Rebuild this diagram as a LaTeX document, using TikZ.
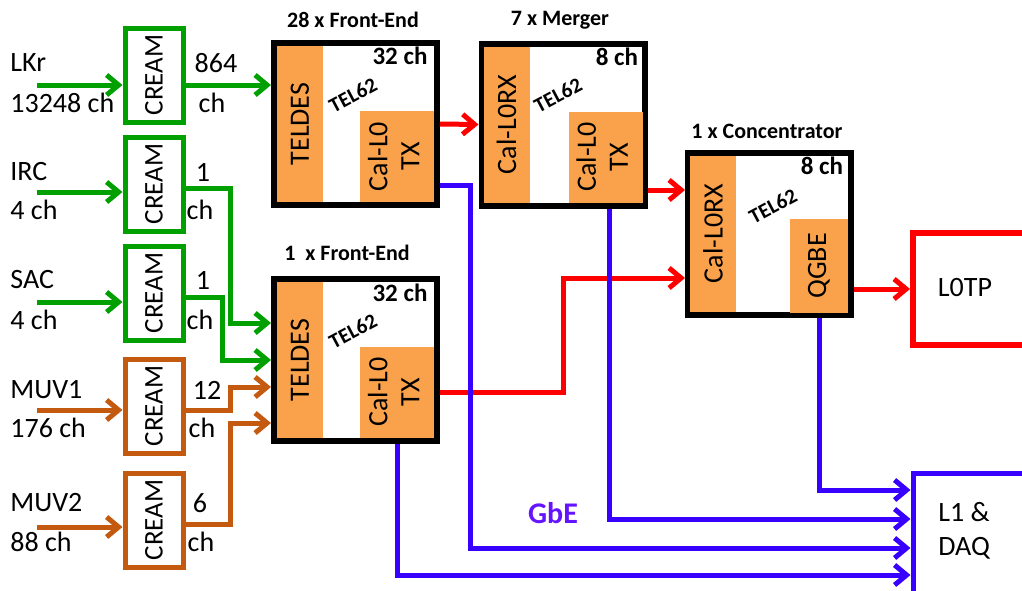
\documentclass[tikz,border=0pt]{standalone}
\usepackage{fontspec}
\setmainfont{Carlito}
\usepackage{xcolor}
\usetikzlibrary{arrows.meta, positioning, calc}

\definecolor{creamgreen}{RGB}{0,160,0}
\definecolor{creambrown}{RGB}{195,90,15}
\definecolor{boardorange}{RGB}{250,162,75}
\definecolor{gbeblue}{RGB}{55,0,255}
\definecolor{gbetext}{RGB}{100,20,255}

\tikzset{
  cream/.style={draw, line width=2.5pt, minimum width=29pt, minimum height=47pt,
    inner sep=0pt, font=\fontsize{13.5}{15}\selectfont},
  board/.style={draw=black, line width=3pt, fill=white, minimum width=81.5pt,
    minimum height=81pt, inner sep=0pt},
  strip/.style={fill=boardorange, minimum width=23pt, minimum height=78pt,
    inner sep=0pt, font=\fontsize{14}{16}\selectfont},
  txbox/.style={fill=boardorange, minimum width=37pt, minimum height=45.5pt,
    inner sep=0pt, font=\fontsize{14}{16}\selectfont},
  lbl/.style={anchor=west, inner sep=0pt, font=\fontsize{14}{16}\selectfont},
  outlbl/.style={inner sep=0pt, font=\fontsize{14}{16}\selectfont},
  head/.style={inner sep=0pt, font=\fontsize{11}{13}\selectfont\bfseries},
  chlbl/.style={inner sep=0pt, font=\fontsize{12.5}{14}\selectfont\bfseries},
  tel/.style={inner sep=0pt, rotate=28, font=\fontsize{10.5}{12}\selectfont\bfseries},
  garrow/.style={creamgreen, line width=2.5pt, -{Straight Barb[length=6pt,width=10pt]}},
  barrow/.style={creambrown, line width=2.5pt, -{Straight Barb[length=6pt,width=10pt]}},
  rarrow/.style={red, line width=2.5pt, -{Straight Barb[length=6pt,width=10pt]}},
  gbe/.style={gbeblue, line width=2.5pt, -{Straight Barb[length=6pt,width=10pt]}},
}

\begin{document}
\begin{tikzpicture}[x=0.5pt, y=-0.5pt]
  \useasboundingbox (0,0) rectangle (1022,590);

  % CREAM boxes and their inputs
  \node[cream, draw=creamgreen] (lkrcream) at (154,75) {\rotatebox{90}{CREAM}};
  \node[cream, draw=creamgreen] (irccream) at (154,184) {\rotatebox{90}{CREAM}};
  \node[cream, draw=creamgreen] (saccream) at (154,293) {\rotatebox{90}{CREAM}};
  \node[cream, draw=creambrown] (muv1cream) at (154,406) {\rotatebox{90}{CREAM}};
  \node[cream, draw=creambrown] (muv2cream) at (154,520) {\rotatebox{90}{CREAM}};

  \node[lbl] (lkr) at (10,63) {LKr};   \node[lbl] (lkrch) at (10,103) {13248 ch};
  \node[lbl] (irc) at (10,172) {IRC};  \node[lbl] (ircch) at (10,210) {4 ch};
  \node[lbl] (sac) at (10,280) {SAC};  \node[lbl] (sacch) at (10,320) {4 ch};
  \node[lbl] (muv1) at (10,390) {MUV1}; \node[lbl] (muv1ch) at (10,428) {176 ch};
  \node[lbl] (muv2) at (10,503) {MUV2}; \node[lbl] (muv2ch) at (10,542) {88 ch};

  \coordinate (lkrsrc) at (37,85);
  \coordinate (ircsrc) at (37,192);
  \coordinate (sacsrc) at (37,302);
  \coordinate (muv1src) at (37,410);
  \coordinate (muv2src) at (37,527);
  \draw[garrow] (lkrsrc) -- (lkrsrc -| lkrcream.west);
  \draw[garrow] (ircsrc) -- (ircsrc -| irccream.west);
  \draw[garrow] (sacsrc) -- (sacsrc -| saccream.west);
  \draw[barrow] (muv1src) -- (muv1src -| muv1cream.west);
  \draw[barrow] (muv2src) -- (muv2src -| muv2cream.west);

  \node[outlbl] (lkrout) at (216,63) {864}; \node[outlbl] (lkroutch) at (212,103) {ch};
  \node[outlbl] (ircout) at (203,172) {1};  \node[outlbl] (ircoutch) at (200,210) {ch};
  \node[outlbl] (sacout) at (203,280) {1};  \node[outlbl] (sacoutch) at (200,320) {ch};
  \node[outlbl] (muv1out) at (207,390) {12}; \node[outlbl] (muv1outch) at (202,428) {ch};
  \node[outlbl] (muv2out) at (200,503) {6};  \node[outlbl] (muv2outch) at (201,542) {ch};

  % TEL62 boards
  \node[board] (fe1) at (355.5,124) {};
  \node[strip] (fe1rx) at (300,124) {\rotatebox{90}{TELDES}};
  \node[txbox] (fe1tx) at (397,156.5) {\rotatebox{90}{\begin{tabular}{@{}c@{}}Cal-L0\\TX\end{tabular}}};
  \node[chlbl] (fe1ch) at (400,56) {32 ch};
  \node[tel] (fe1tel) at (353,95) {TEL62};
  \node[head] (fe1head) at (353,20) {28 x Front-End};

  \node[board] (fe2) at (355.5,360) {};
  \node[strip] (fe2rx) at (300,360) {\rotatebox{90}{TELDES}};
  \node[txbox] (fe2tx) at (397,392) {\rotatebox{90}{\begin{tabular}{@{}c@{}}Cal-L0\\TX\end{tabular}}};
  \node[chlbl] (fe2ch) at (400,293) {32 ch};
  \node[tel] (fe2tel) at (353,331) {TEL62};
  \node[head] (fe2head) at (347,253) {1\ \ x Front-End};

  \node[board] (mrg) at (563,124.5) {};
  \node[strip] (mrgrx) at (506.5,124.5) {\rotatebox{90}{Cal-L0RX}};
  \node[txbox] (mrgtx) at (605.5,157) {\rotatebox{90}{\begin{tabular}{@{}c@{}}Cal-L0\\TX\end{tabular}}};
  \node[chlbl] (mrgch) at (617,57) {8 ch};
  \node[tel] (mrgtel) at (558,95) {TEL62};
  \node[head] (mrghead) at (560,20) {7 x Merger};

  \node[board] (conc) at (769.5,233.5) {};
  \node[strip] (concrx) at (713,233.5) {\rotatebox{90}{Cal-L0RX}};
  \node[txbox, minimum width=29pt, minimum height=47pt] (qgbe) at (819,266) {\rotatebox{90}{QGBE}};
  \node[chlbl] (concch) at (822,166) {8 ch};
  \node[tel] (conctel) at (773,206) {TEL62};
  \node[head] (conchead) at (767,131) {1 x Concentrator};

  % L0TP and L1 & DAQ
  \node[draw=red, line width=3pt, minimum width=62pt, minimum height=56pt] (l0tp) at (975,289) {};
  \node[outlbl] (l0tptxt) at (965,288) {L0TP};
  \node[draw=gbeblue, line width=2.5pt, minimum width=62pt, minimum height=67pt] (l1) at (975,540) {};
  \node[lbl, align=left, font=\fontsize{14}{17}\selectfont] (l1txt) at (938,531) {L1 \&\\DAQ};

  % CREAM outputs
  \draw[garrow] (lkrcream.east |- lkrsrc) -- (fe1.west |- lkrsrc);
  \draw[garrow] ([yshift=-2pt]irccream.east) -- ++(45,0) |- ([yshift=18.5pt]fe2.west);
  \draw[garrow] ([yshift=-2pt]saccream.east) -- ++(37,0) |- (fe2.west);
  \draw[barrow] ([yshift=-2pt]muv1cream.east) -- ++(45,0) |- ([yshift=-13.5pt]fe2.west);
  \draw[barrow] ([yshift=-2pt]muv2cream.east) -- ++(45,0) |- ([yshift=-31.5pt]fe2.west);

  % L0 trigger primitives
  \draw[rarrow] (fe1.east) -- (mrg.west);
  \draw[rarrow] ([yshift=-32.75pt]mrg.east) -- ([yshift=-32.75pt]mrg.east -| conc.west);
  \draw[rarrow] (fe2tx.east -| fe2.east) -- ++(123,0) |- ([yshift=-22.25pt]conc.west);
  \draw[rarrow] (conc.east |- l0tp) -- (l0tp.west);

  % GbE readout
  \draw[gbe] (qgbe.south |- conc.south) |- ([yshift=25pt]l1.west);
  \draw[gbe] ([xshift=23pt]mrg.south) |- ([yshift=10.5pt]l1.west);
  \draw[gbe] ([yshift=-30.5pt]fe1.east) -- ++(30,0) |- ([yshift=-4pt]l1.west);
  \draw[gbe] (fe2tx.south |- fe2.south) |- ([yshift=-17.5pt]l1.west);
  \node[inner sep=0pt, text=gbetext, font=\fontsize{15}{17}\selectfont\bfseries] (gbe) at (553,513) {GbE};
\end{tikzpicture}
\end{document}
